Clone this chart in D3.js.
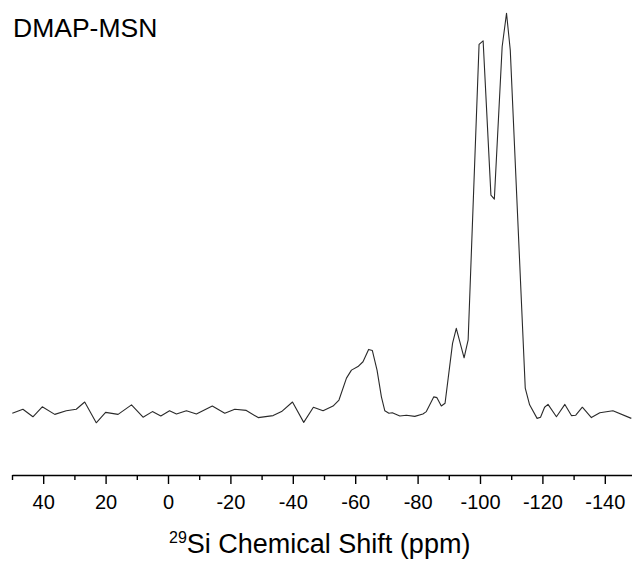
<!DOCTYPE html>
<html>
<head>
<meta charset="utf-8">
<script src="https://cdn.jsdelivr.net/npm/d3@7"></script>
<style>
  html, body { margin: 0; padding: 0; background: #fff; }
  svg { display: block; }
  text { font-family: "Liberation Sans", Arial, sans-serif; fill: #000; }
</style>
</head>
<body>
<svg id="chart" width="632" height="562"></svg>
<script>
// 29Si NMR spectrum of DMAP-MSN: chemical shift (ppm) and normalised intensity
const shiftPpm = [
  49.9, 46.5, 43.3, 40.3, 36.3, 32.6, 29.4, 26.7, 23.0, 20.0,
  16.0, 11.7, 8.0, 5.0, 2.3, -0.5, -2.7, -5.9, -9.1, -14.2,
  -18.2, -21.4, -25.1, -28.9, -33.7, -36.4, -39.9, -43.5, -46.6, -49.7,
  -52.9, -54.8, -57.2, -58.8, -60.9, -62.5, -64.3, -65.5, -67.0, -68.4,
  -69.5, -70.8, -71.9, -74.3, -76.4, -79.1, -81.7, -82.8, -85.2, -86.2,
  -87.6, -88.8, -91.2, -92.4, -94.9, -96.2, -99.7, -101.0, -103.5, -104.6,
  -107.1, -108.5, -109.7, -114.5, -115.9, -118.3, -119.4, -120.7, -121.8, -124.5,
  -127.2, -129.3, -130.7, -132.8, -135.7, -138.4, -142.6, -148.5
];
const intensity = [
  -0.3, 0.7, -1.2, 1.3, -0.6, 0.3, 0.7, 2.5, -2.7, -0.1,
  -0.6, 1.8, -1.3, 0.1, -1.0, 0.3, -0.5, 0.3, -0.5, 1.5,
  -0.3, 0.7, 0.4, -1.4, -0.9, 0.1, 2.5, -2.6, 1.2, 0.3,
  1.5, 3.0, 8.5, 10.5, 11.4, 12.6, 15.7, 15.4, 10.5, 3.8,
  0.3, -0.3, -0.2, -1.0, -0.8, -1.1, -0.5, 0.1, 3.8, 3.6,
  1.5, 2.2, 17.2, 21.0, 13.6, 18.1, 92.2, 93.1, 54.4, 53.4,
  91.6, 100.0, 90.8, 6.0, 1.8, -1.6, -1.3, 1.2, 1.9, -1.2,
  1.9, -0.9, -0.8, 1.2, -1.4, -0.2, 0.3, -1.6
];
const majorTicks = [40, 20, 0, -20, -40, -60, -80, -100, -120, -140];
const minorTicks = [50, 30, 10, -10, -30, -50, -70, -90, -110, -130, -150];
const chartTitle = "DMAP-MSN";

const svg = d3.select("#chart");

const x = d3.scaleLinear().domain([50, -150]).range([12, 636]);
const y = d3.scaleLinear().domain([0, 100]).range([412, 13.3]);
const axisY = 475;

const points = shiftPpm.map((p, i) => ({ p, v: intensity[i] }));

// spectrum trace
svg.append("path")
  .datum(points)
  .attr("fill", "none")
  .attr("stroke", "#2a2a2a")
  .attr("stroke-width", 1.1)
  .attr("stroke-linejoin", "round")
  .attr("d", d3.line().x(d => x(d.p)).y(d => y(d.v)));

// minor ticks
svg.append("g")
  .attr("transform", `translate(0,${axisY})`)
  .call(d3.axisBottom(x).tickValues(minorTicks).tickSize(5).tickSizeOuter(0).tickFormat(""))
  .call(g => g.select(".domain").remove())
  .call(g => g.selectAll("line").attr("stroke", "#000").attr("stroke-width", 1.4));

// major ticks, labels and axis line
svg.append("g")
  .attr("transform", `translate(0,${axisY})`)
  .call(d3.axisBottom(x).tickValues(majorTicks).tickSize(9).tickSizeOuter(0)
    .tickPadding(11).tickFormat(d => String(d)))
  .call(g => g.select(".domain").attr("stroke", "#000").attr("stroke-width", 1.5))
  .call(g => g.selectAll("line").attr("stroke", "#000").attr("stroke-width", 1.4))
  .call(g => g.selectAll("text").attr("font-size", 20)
    .attr("font-family", "'Liberation Sans', Arial, sans-serif").attr("fill", "#000"));

// axis title with superscript mass number
const xt = svg.append("text")
  .attr("x", 169).attr("y", 553)
  .attr("font-size", 27);
xt.append("tspan").attr("font-size", 16).attr("dy", -10).text("29");
xt.append("tspan").attr("dy", 10).text("Si Chemical Shift (ppm)");

// sample label
svg.append("text")
  .attr("x", 13).attr("y", 37)
  .attr("font-size", 26.5)
  .text(chartTitle);
</script>
</body>
</html>
